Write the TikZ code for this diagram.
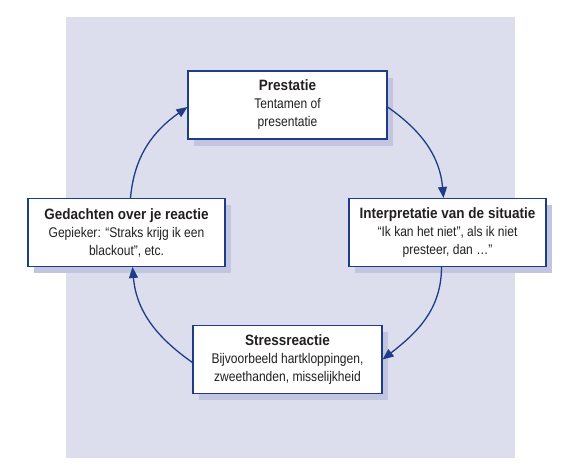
\documentclass[tikz,border=0pt]{standalone}
\usepackage{fontspec}
\setmainfont{Liberation Sans}[FakeStretch=0.86]
\newfontfamily\headfont{Liberation Sans}[FakeStretch=0.9]
\usepackage{tikz}
\usetikzlibrary{positioning,arrows.meta,shadows}
\definecolor{panel}{HTML}{DCDEED}
\definecolor{shade}{HTML}{C2C5E0}
\definecolor{navy}{HTML}{1F3C88}
\definecolor{ink}{HTML}{231F20}
\tikzset{
  cycbox/.style={draw=navy, line width=1.1pt, fill=white, align=center,
    inner sep=2pt, minimum height=68pt, text=ink,
    font=\fontsize{14}{18}\selectfont,
    general shadow={shadow xshift=6pt, shadow yshift=-7pt, fill=shade, draw=none}},
  arr/.style={-{Triangle[length=11pt, width=9pt]}, line width=1.3pt, navy},
}
\newcommand{\boxhead}[1]{{\headfont\bfseries\fontsize{15}{19}\selectfont #1}}

\begin{document}
\begin{tikzpicture}[x=1pt, y=1pt]
    \useasboundingbox (0,0) rectangle (573,468);
    \fill[panel] (66,10) rectangle (515,451);
    \node[cycbox, minimum width=199pt] (prest) at (287.5,363) {\boxhead{Prestatie}\\Tentamen of\\presentatie};
    \node[cycbox, minimum width=197pt] (interp) at (447.5,235.5) {\boxhead{Interpretatie van de situatie}\\“Ik kan het niet”, als ik niet\\presteer, dan …”};
    \node[cycbox, minimum width=189pt] (stress) at (287.5,108.5) {\boxhead{Stressreactie}\\Bijvoorbeeld hartkloppingen,\\zweethanden, misselijkheid};
    \node[cycbox, minimum width=197pt] (gedacht) at (126.5,235.5) {\boxhead{Gedachten over je reactie}\\Gepieker: “Straks krijg ik een\\blackout”, etc.};
    \draw[arr] ([yshift=-2pt]prest.east) to[out=-35, in=95] ([xshift=-4pt]interp.north);
    \draw[arr] ([xshift=-6pt]interp.south) to[out=-90, in=38] (stress.east);
    \draw[arr] ([yshift=-3pt]stress.west) to[out=145, in=-85] ([xshift=6pt]gedacht.south);
    \draw[arr] ([xshift=4pt]gedacht.north) to[out=85, in=215] ([yshift=-2pt]prest.west);
\end{tikzpicture}
\end{document}
